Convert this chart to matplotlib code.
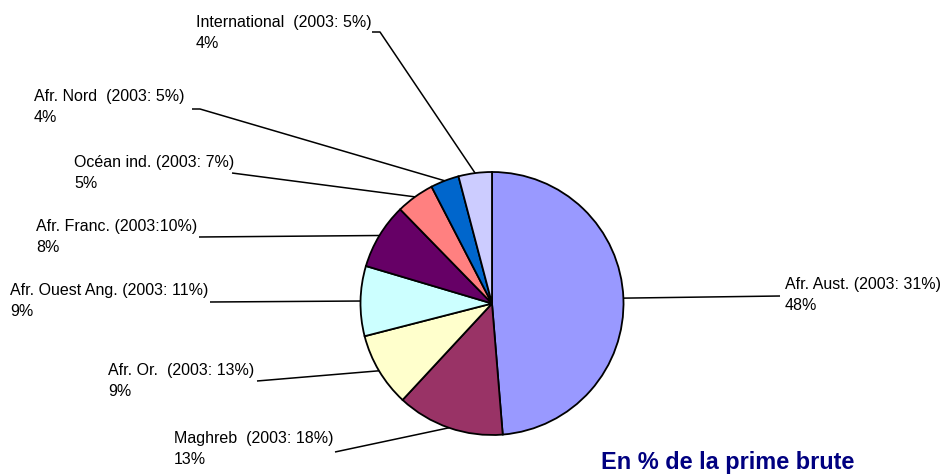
import matplotlib
matplotlib.use("Agg")
import matplotlib.pyplot as plt
import numpy as np

# Data
regions = ["Afr. Aust.", "Maghreb", "Afr. Or.", "Afr. Ouest Ang.", "Afr. Franc.",
           "Océan ind.", "Afr. Nord", "International"]
share_2003 = [31, 18, 13, 11, 10, 7, 5, 5]
share_now = [48, 13, 9, 9, 8, 5, 4, 4]                         # labels (rounded)
share_now_exact = [48.7, 13.2, 9.1, 8.6, 8.1, 4.7, 3.5, 4.1]    # wedge sizes
colors = ["#9999FF", "#993366", "#FFFFCC", "#CCFFFF", "#660066",
          "#FF8080", "#0066CC", "#CCCCFF"]
label_fmt = ["{r} (2003: {p}%)", "{r}  (2003: {p}%)", "{r}  (2003: {p}%)", "{r} (2003: {p}%)",
             "{r} (2003:{p}%)", "{r} (2003: {p}%)", "{r}  (2003: {p}%)", "{r}  (2003: {p}%)"]
title = "En % de la prime brute"

# Layout (pixel coordinates, y from top)
W, H = 948, 475
center_px = (492, 303.5)
radius_px = 131.5
label_pos = [(785, 285), (174, 438), (108, 370), (10, 290), (36, 226), (74, 162), (34, 96), (196, 22)]
stub_end = [(780, 296), (335, 452), (257, 381), (210, 302), (199, 237), (232, 173), (192, 109), (372, 32)]
stub_len = [0, 0, 0, 0, 0, 0, 8, 8]

fig = plt.figure(figsize=(W / 100, H / 100), dpi=100)
ax = fig.add_axes([0, 0, 1, 1])

def fy(y):
    return H - y

wedges, _ = ax.pie(share_now_exact, colors=colors, startangle=90, counterclock=False,
                   center=(center_px[0], fy(center_px[1])), radius=radius_px,
                   wedgeprops=dict(edgecolor="black", linewidth=1.3))
ax.set_xlim(0, W)
ax.set_ylim(0, H)
ax.axis("off")

font = ["Liberation Sans", "DejaVu Sans"]
for w, reg, p03, pn, fmt, (lx, ly), (sx, sy), sl in zip(
        wedges, regions, share_2003, share_now, label_fmt, label_pos, stub_end, stub_len):
    mid = np.deg2rad((w.theta1 + w.theta2) / 2)
    ax_x = center_px[0] + radius_px * np.cos(mid)
    ax_y = fy(center_px[1]) + radius_px * np.sin(mid)
    xs = [sx, sx + sl, ax_x] if sl else [sx, ax_x]
    ys = [fy(sy), fy(sy), ax_y] if sl else [fy(sy), ax_y]
    ax.plot(xs, ys, color="black", linewidth=1.1, solid_capstyle="butt")
    ax.text(lx, fy(ly), fmt.format(r=reg, p=p03), fontsize=11.5, family=font,
            ha="left", va="center")
    ax.text(lx, fy(ly + 21), f"{pn}%", fontsize=11.5, family=font,
            ha="left", va="center")

ax.text(601, fy(463), title, fontsize=16.9, fontweight="bold", color="#000080",
        family=font, ha="left", va="center")

fig.savefig("out.png", dpi=100)
